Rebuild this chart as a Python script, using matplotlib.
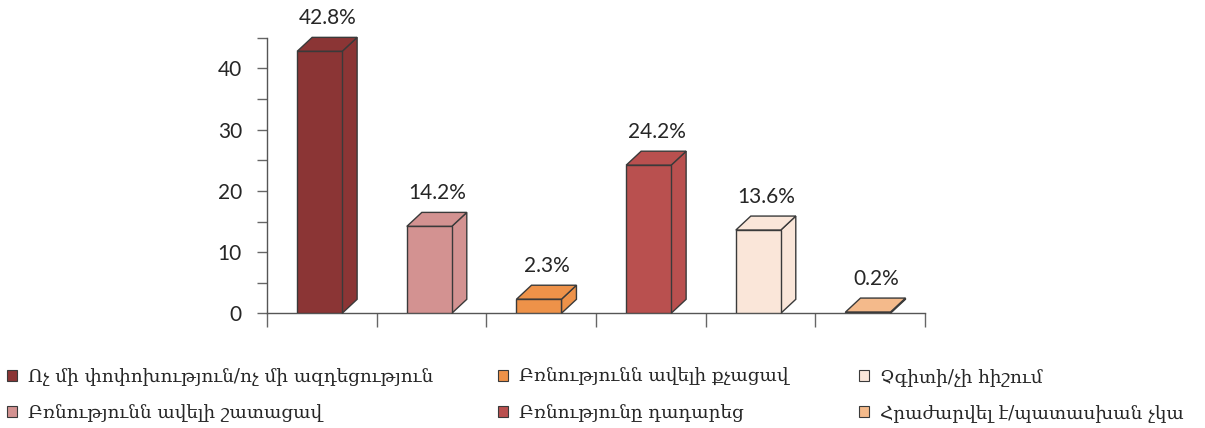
import matplotlib
matplotlib.use("Agg")
import matplotlib.pyplot as plt
from matplotlib.patches import Polygon, Patch
import numpy as np

categories = [
    "Ոչ մի փոփոխություն/ոչ մի ազդեցություն",
    "Բռնությունն ավելի շատացավ",
    "Բռնությունն ավելի քչացավ",
    "Բռնությունը դադարեց",
    "Չգիտի/չի հիշում",
    "Հրաժարվել է/պատասխան չկա",
]
values = [42.8, 14.2, 2.3, 24.2, 13.6, 0.2]
labels = ["42.8%", "14.2%", "2.3%", "24.2%", "13.6%", "0.2%"]
colors = ["#8B3535", "#D39291", "#EE9249", "#B9504F", "#FAE6D9", "#F4BA8B"]

W, H = 1205, 428
fig = plt.figure(figsize=(W / 100, H / 100), dpi=100)
ax = fig.add_axes([267 / W, (H - 313.3) / H, 658 / W, 275.4 / H])

n = len(values)
x = np.arange(n)
bar_w = 0.41
ax.set_xlim(-0.5, n - 0.5)
ax.set_ylim(0, 45)

# depth offsets in pixels -> data units
fig.canvas.draw()
px_per_x = ax.transData.transform((1, 0))[0] - ax.transData.transform((0, 0))[0]
px_per_y = ax.transData.transform((0, 1))[1] - ax.transData.transform((0, 0))[1]
ddx = 15 / px_per_x
ddy = 14 / px_per_y

edge = "#3a3a3a"
bars = ax.bar(x - 0.02, values, width=bar_w, color=colors, edgecolor=edge,
              linewidth=1.0, zorder=3)
for b, v, c in zip(bars, values, colors):
    x0 = b.get_x()
    x1 = x0 + b.get_width()
    side = Polygon([(x1, 0), (x1 + ddx, ddy), (x1 + ddx, v + ddy), (x1, v)],
                   closed=True, facecolor=c, edgecolor=edge, linewidth=1.0,
                   zorder=2.9, clip_on=False)
    top = Polygon([(x0, v), (x0 + ddx, v + ddy), (x1 + ddx, v + ddy), (x1, v)],
                  closed=True, facecolor=c, edgecolor=edge, linewidth=1.0,
                  zorder=2.95, clip_on=False)
    ax.add_patch(side)
    ax.add_patch(top)

for b, v, lab in zip(bars, values, labels):
    xc = b.get_x() + b.get_width() / 2
    ax.annotate(lab, xy=(xc, v), xytext=(6, 24), textcoords="offset points",
                ha="center", va="center", fontsize=15, family="Lato",
                color="#262626", annotation_clip=False, zorder=5)

# axes styling
for s in ["top", "right"]:
    ax.spines[s].set_visible(False)
ax.spines["left"].set_color("#555555")
ax.spines["bottom"].set_color("#555555")
ax.spines["left"].set_linewidth(1.0)
ax.spines["bottom"].set_linewidth(1.0)

ax.set_yticks([0, 10, 20, 30, 40])
ax.set_yticks([5, 15, 25, 35, 45], minor=True)
ax.tick_params(axis="y", which="both", direction="out", length=7, width=1,
               color="#666666", labelsize=15, pad=11)
for t in ax.get_yticklabels():
    t.set_family("Lato")
    t.set_color("#262626")

ax.set_xticks([])
ax.set_xticks(np.arange(-0.5, n, 1.0), minor=True)
ax.tick_params(axis="x", which="minor", direction="out", length=10, width=1,
               color="#666666", labelbottom=False)

# legend: three columns of two entries
handles = [Patch(facecolor=c, edgecolor=edge, linewidth=0.8) for c in colors]
col_x = [7 / W, 498 / W, 859 / W]
for j in range(3):
    hs = handles[2 * j:2 * j + 2]
    ls = categories[2 * j:2 * j + 2]
    leg = fig.legend(hs, ls, loc="upper left", bbox_to_anchor=(col_x[j], (H - 368) / H),
                     frameon=False, ncol=1, handlelength=0.55, handleheight=0.55,
                     handletextpad=0.6, labelspacing=0.98,
                     prop={"family": "DejaVu Serif", "size": 13.2},
                     borderaxespad=0, borderpad=0)
    for t in leg.get_texts():
        t.set_color("#262626")

fig.savefig("out.png", dpi=100)
